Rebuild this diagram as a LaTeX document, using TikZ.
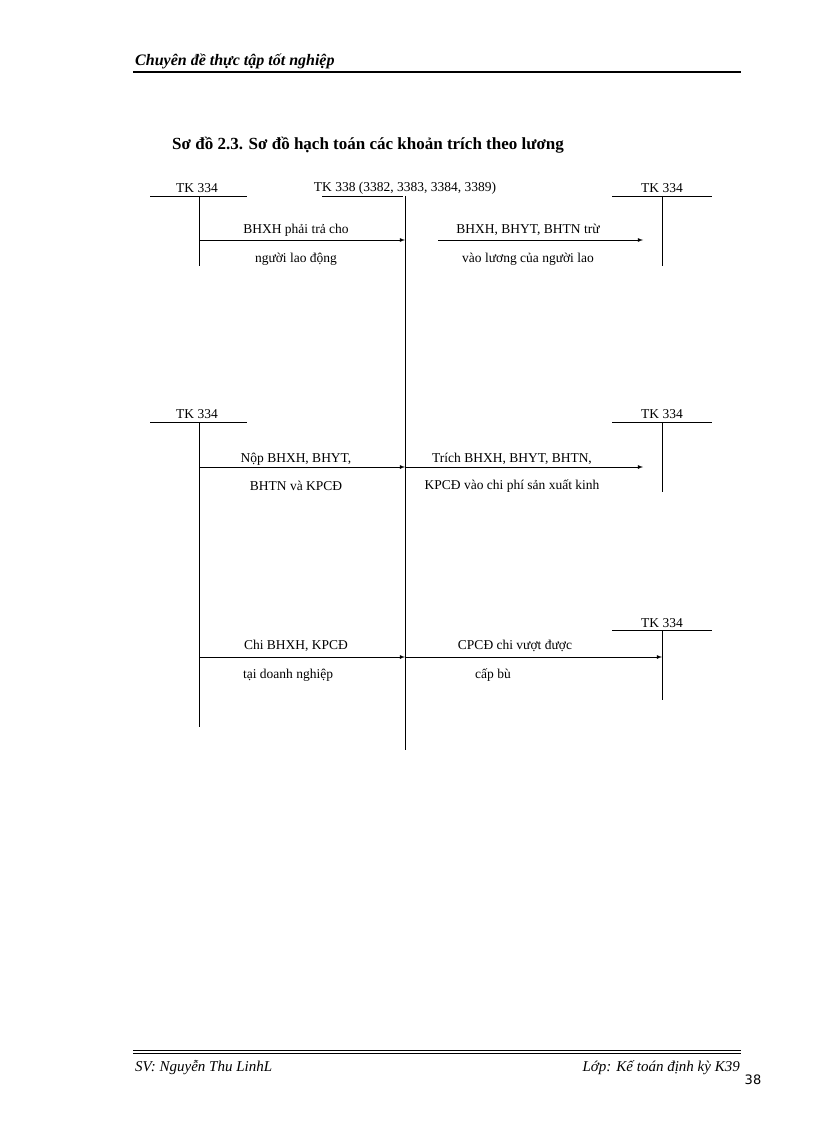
\documentclass[tikz,border=0pt]{standalone}
\usepackage{fontspec}
\setmainfont{Liberation Serif}
\newfontfamily\numfont{DejaVu Sans}
\begin{document}
\begin{tikzpicture}[x=1pt,y=-1pt,
  lbl/.style={font=\fontsize{13.5}{15}\selectfont,inner sep=0pt},
  acc/.style={line width=0.8pt},
  arr/.style={line width=0.8pt,-latex}]
\useasboundingbox (0,0) rectangle (816,1123);
% header
\node[anchor=base west,inner sep=0pt,font=\fontsize{16}{18}\selectfont\bfseries\itshape] (hdr) at (135,66) {Chuyên đề thực tập tốt nghiệp};
\draw[line width=1.6pt] (133,72) -- (741,72);
\node[anchor=base west,inner sep=0pt,font=\fontsize{17}{19}\selectfont\bfseries] (title) at (172,150) {Sơ đồ 2.3. Sơ đồ hạch toán các khoản trích theo lương};
% section 1
\node[lbl] (a1) at (197,188) {TK 334};
\node[lbl] (m1) at (405,188) {TK 338 (3382, 3383, 3384, 3389)};
\node[lbl] (b1) at (662,188) {TK 334};
\coordinate (a1t) at (199,196); \coordinate (a1b) at (199,266);
\coordinate (mt) at (405,196); \coordinate (mb) at (405,750);
\coordinate (b1t) at (662,196); \coordinate (b1b) at (662,266);
\draw[acc] (150,196) -- (247,196) (322,196) -- (403,196) (612,196) -- (712,196);
\draw[acc] (a1t) -- (a1b) (mt) -- (mb) (b1t) -- (b1b);
\coordinate (r1s) at (199,240); \coordinate (r1e) at (405,240);
\coordinate (s1s) at (438,240); \coordinate (s1e) at (643,240);
\draw[arr] (r1s) -- (r1e);
\draw[arr] (s1s) -- (s1e);
\node[lbl] (t1) at (296,230) {BHXH phải trả cho};
\node[lbl] (t2) at (296,259) {người lao động};
\node[lbl] (t3) at (528,230) {BHXH, BHYT, BHTN trừ};
\node[lbl] (t4) at (528,259) {vào lương của người lao};
% section 2
\node[lbl] (a2) at (197,414) {TK 334};
\node[lbl] (b2) at (662,414) {TK 334};
\coordinate (a2t) at (199,422); \coordinate (a2b) at (199,727);
\coordinate (b2t) at (662,422); \coordinate (b2b) at (662,492);
\draw[acc] (150,422) -- (247,422) (612,422) -- (712,422);
\draw[acc] (a2t) -- (a2b) (b2t) -- (b2b);
\coordinate (r2s) at (199,467); \coordinate (r2e) at (405,467);
\coordinate (s2e) at (643,467);
\draw[arr] (r2s) -- (r2e);
\draw[arr] (r2e) -- (s2e);
\node[lbl] (u1) at (296,459) {Nộp BHXH, BHYT,};
\node[lbl] (u2) at (296,486) {BHTN và KPCĐ};
\node[lbl] (u3) at (512,459) {Trích BHXH, BHYT, BHTN,};
\node[lbl] (u4) at (512,486) {KPCĐ vào chi phí sản xuất kinh};
% section 3
\node[lbl] (b3) at (662,623) {TK 334};
\coordinate (b3t) at (662,630); \coordinate (b3b) at (662,700);
\draw[acc] (612,630) -- (712,630);
\draw[acc] (b3t) -- (b3b);
\coordinate (r3s) at (199,657); \coordinate (r3e) at (405,657);
\draw[arr] (r3s) -- (r3e);
\draw[arr] (r3e) -- (b3t |- r3e);
\node[lbl] (v1) at (296,646) {Chi BHXH, KPCĐ};
\node[lbl] (v2) at (288,675) {tại doanh nghiệp};
\node[lbl] (v3) at (515,646) {CPCĐ chi vượt được};
\node[lbl] (v4) at (493,675) {cấp bù};
% footer
\draw[line width=0.6pt] (133,1050) -- (741,1050) (133,1053) -- (741,1053);
\node[anchor=base west,inner sep=0pt,font=\fontsize{15}{17}\selectfont\itshape] (f1) at (135,1071) {SV: Nguyễn Thu LinhL};
\node[anchor=base east,inner sep=0pt,font=\fontsize{15}{17}\selectfont\itshape] (f2) at (740,1071) {Lớp: Kế toán định kỳ K39};
\node[inner sep=0pt,font=\numfont\fontsize{13}{15}\selectfont] (pg) at (753,1080) {38};
\end{tikzpicture}
\end{document}
